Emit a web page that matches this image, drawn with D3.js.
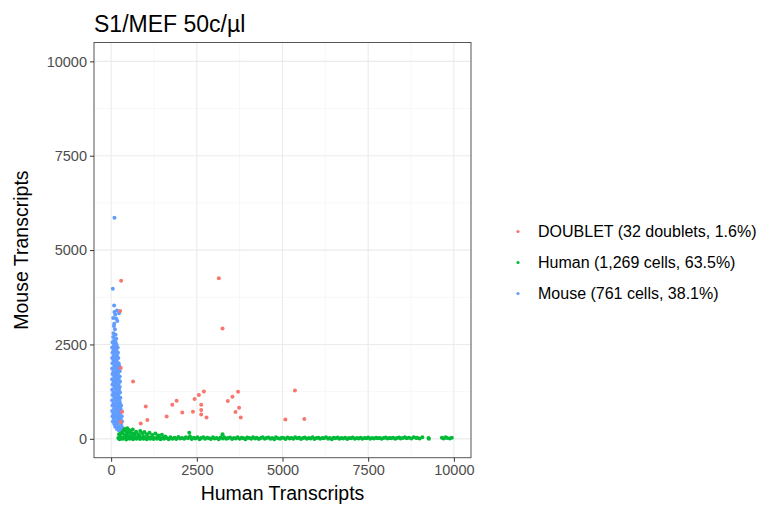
<!DOCTYPE html>
<html>
<head>
<meta charset="utf-8">
<script src="https://cdnjs.cloudflare.com/ajax/libs/d3/7.8.5/d3.min.js"></script>
<style>
	body { margin: 0; background: #fff; }
	svg { display: block; font-family: "Liberation Sans", Arial, sans-serif; }
</style>
</head>
<body>
<svg id="chart" width="760" height="511"></svg>
<script>
var TITLE = "S1/MEF 50c/\u00b5l";
var X_LABEL = "Human Transcripts";
var Y_LABEL = "Mouse Transcripts";
var TICKS = [0, 2500, 5000, 7500, 10000];
var MINOR_TICKS = [1250, 3750, 6250, 8750];

var categories = ["DOUBLET", "Human", "Mouse"];
var legendLabels = [
	"DOUBLET (32 doublets, 1.6%)",
	"Human (1,269 cells, 63.5%)",
	"Mouse (761 cells, 38.1%)"
];

// [human transcripts, mouse transcripts]
var doubletPts = [
	[291, 4188], [3142, 4251], [262, 3385], [3250, 2926], [282, 1874], [640, 1521],
	[320, 716], [282, 443], [864, 408], [1010, 859], [1057, 496], [1620, 594],
	[1784, 901], [1911, 1007], [2075, 700], [2386, 716], [2435, 1052], [2560, 1158],
	[2706, 1256], [2628, 901], [2628, 761], [2628, 647], [2783, 567], [3404, 999],
	[3540, 1113], [3704, 1246], [3733, 822], [3628, 708], [3782, 567], [5083, 514],
	[5362, 1283], [5636, 522]
];

var humanPts = [
	[210, 20], [230, 120], [250, 250], [260, 60], [280, 180], [300, 10], [310, 290], [330, 140],
	[350, 220], [370, 40], [390, 260], [410, 100], [430, 200], [450, 30], [470, 280], [490, 150],
	[510, 70], [530, 230], [560, 20], [580, 170], [600, 110], [630, 250], [650, 40], [680, 140],
	[700, 60], [730, 190], [760, 20], [790, 120], [820, 80], [850, 210], [880, 30], [910, 150],
	[940, 60], [970, 180], [1000, 20], [1040, 120], [1080, 50], [1120, 160], [1160, 30], [1200, 100],
	[1250, 20], [1290, 140], [1340, 40], [1380, 90], [1430, 20], [1480, 110], [1530, 30], [1580, 60],
	[240, -10], [340, 0], [440, -15], [540, 5], [640, -10], [740, 0], [840, -5], [940, 5],
	[1040, -10], [1140, 0], [1240, -5], [1340, 5], [1440, -10], [1540, 0],
	[1620, 20], [1680, -10], [1730, 40], [1790, 5], [1850, 30], [1900, -5], [1960, 50], [2010, 10],
	[2070, 25], [2130, 0], [2180, 45], [2240, 15], [2280, 160], [2300, 60], [2350, -5], [2410, 30],
	[2460, 10], [2520, 40], [2580, -10], [2630, 20], [2690, 45], [2740, 0], [2800, 30], [2860, 15],
	[2910, -5], [2970, 40], [3020, 10], [3080, 25], [3140, -10], [3190, 35], [3250, 120], [3260, 10],
	[3300, 45], [3360, 0], [3410, 20], [3470, 35], [3530, -5], [3580, 25], [3640, 10], [3690, 40],
	[3750, 0], [3810, 30], [3860, 15], [3920, -10], [3970, 35], [4030, 20], [4090, 5], [4140, 45],
	[4200, 10], [4250, 30], [4310, -5], [4370, 25], [4420, 40], [4480, 0], [4530, 20], [4590, 35],
	[4650, 5], [4700, 25], [4760, -10], [4810, 40], [4870, 15], [4930, 0], [4980, 30], [5040, 20],
	[5090, -5], [5150, 35], [5210, 10], [5260, 25], [5320, 0], [5370, 40], [5430, 15], [5490, 30],
	[5540, -5], [5600, 20], [5650, 35], [5710, 5], [5770, 25], [5820, 10], [5880, 40], [5930, -5],
	[5990, 20], [6050, 30], [6100, 0], [6160, 25], [6210, 15], [6270, 40], [6330, 5], [6380, 20],
	[6440, -10], [6490, 30], [6550, 15], [6610, 35], [6660, 0], [6720, 20], [6770, 10], [6830, 30],
	[6890, -5], [6940, 25], [7000, 15], [7050, 35], [7110, 0], [7170, 20], [7220, 10], [7280, 30],
	[7330, 5], [7390, 25], [7450, 15], [7500, 35], [7560, 0], [7610, 20], [7670, 10], [7730, 30],
	[7780, 15], [7840, 25], [7890, 5], [7950, 20], [8010, 35], [8060, 10], [8120, 25], [8170, 15],
	[8230, 30], [8290, 5], [8340, 20], [8400, 35], [8450, 10], [8510, 25], [8570, 40], [8620, 15],
	[8690, 30], [8760, 10], [8830, 45], [8900, 20],
	[8930, 30], [9000, 10], [9080, 40], [9260, 20], [9270, 0], [9650, 30], [9700, 10], [9760, 40],
	[9800, 20], [9880, 10], [9940, 30]
];

var mousePts = [
	[97, 5857], [49, 3976], [87, 3535], [170, 3400], [95, 3360], [230, 3330], [120, 3290], [60, 3200],
	[150, 3180], [180, 3120], [90, 3050], [80, 2990], [110, 2900], [70, 2800], [130, 2760], [60, 2700],
	[150, 2650], [90, 2610],
	[40, 2560], [130, 2560], [80, 2490], [160, 2490], [30, 2420], [120, 2420], [190, 2420],
	[70, 2350], [150, 2350], [40, 2280], [110, 2280], [200, 2280], [80, 2210], [170, 2210],
	[30, 2140], [130, 2140], [210, 2140], [70, 2070], [160, 2070], [40, 2000], [120, 2000], [220, 2000],
	[90, 1930], [180, 1930], [240, 1930], [30, 1860], [140, 1860], [210, 1860],
	[70, 1790], [160, 1790], [250, 1790], [40, 1720], [120, 1720], [200, 1720],
	[90, 1650], [180, 1650], [250, 1650], [30, 1580], [140, 1580], [220, 1580],
	[70, 1510], [160, 1510], [260, 1510], [40, 1440], [120, 1440], [210, 1440],
	[90, 1370], [180, 1370], [250, 1370], [30, 1300], [140, 1300], [230, 1300],
	[70, 1230], [170, 1230], [260, 1230], [40, 1160], [120, 1160], [210, 1160],
	[90, 1090], [190, 1090], [270, 1090], [30, 1020], [140, 1020], [240, 1020],
	[70, 950], [170, 950], [260, 950], [40, 880], [130, 880], [220, 880], [290, 880],
	[90, 810], [180, 810], [270, 810], [30, 740], [140, 740], [230, 740], [300, 740],
	[70, 670], [170, 670], [260, 670], [40, 600], [130, 600], [220, 600], [310, 600],
	[80, 530], [180, 530], [280, 530], [50, 460], [140, 460], [230, 460], [320, 460],
	[90, 390], [190, 390], [290, 390], [120, 320], [220, 320], [310, 320],
	[170, 260], [260, 260], [220, 230]
];

var colors = ["#F8766D", "#00BA38", "#619CFF"];
var series = [doubletPts, humanPts, mousePts];
var RADIUS = 2;

var svg = d3.select("#chart");
var panel = { left: 94, right: 471, top: 42.5, bottom: 457.7 };

var x = d3.scaleLinear().domain([-500, 10500]).range([panel.left, panel.right]);
var y = d3.scaleLinear().domain([-500, 10500]).range([panel.bottom, panel.top]);
var color = d3.scaleOrdinal().domain(categories).range(colors);

// minor grid first, then major grid
var grid = svg.append("g");
MINOR_TICKS.forEach(function(t) {
	grid.append("line").attr("x1", x(t)).attr("x2", x(t)).attr("y1", panel.top).attr("y2", panel.bottom)
		.attr("stroke", "#f2f2f2").attr("stroke-width", 0.6);
	grid.append("line").attr("y1", y(t)).attr("y2", y(t)).attr("x1", panel.left).attr("x2", panel.right)
		.attr("stroke", "#f2f2f2").attr("stroke-width", 0.6);
});
TICKS.forEach(function(t) {
	grid.append("line").attr("x1", x(t)).attr("x2", x(t)).attr("y1", panel.top).attr("y2", panel.bottom)
		.attr("stroke", "#ebebeb").attr("stroke-width", 1.1);
	grid.append("line").attr("y1", y(t)).attr("y2", y(t)).attr("x1", panel.left).attr("x2", panel.right)
		.attr("stroke", "#ebebeb").attr("stroke-width", 1.1);
});

// points: human, mouse, then doublets on top
var order = [1, 2, 0];
order.forEach(function(i) {
	svg.append("g").selectAll("circle")
		.data(series[i])
		.join("circle")
		.attr("cx", function(d) { return x(d[0]); })
		.attr("cy", function(d) { return y(d[1]); })
		.attr("r", RADIUS)
		.attr("fill", color(categories[i]));
});

svg.append("rect")
	.attr("x", panel.left).attr("y", panel.top)
	.attr("width", panel.right - panel.left).attr("height", panel.bottom - panel.top)
	.attr("fill", "none").attr("stroke", "#555").attr("stroke-width", 1);

// axes
var xAxis = d3.axisBottom(x).tickValues(TICKS).tickSize(4).tickPadding(3).tickFormat(d3.format("d"));
var yAxis = d3.axisLeft(y).tickValues(TICKS).tickSize(4).tickPadding(3).tickFormat(d3.format("d"));

var gx = svg.append("g").attr("transform", "translate(0," + panel.bottom + ")").call(xAxis);
var gy = svg.append("g").attr("transform", "translate(" + panel.left + ",0)").call(yAxis);
[gx, gy].forEach(function(g) {
	g.select(".domain").remove();
	g.selectAll(".tick line").attr("stroke", "#333");
	g.selectAll(".tick text").attr("fill", "#4d4d4d").style("font-size", "14.5px")
		.style("font-family", "'Liberation Sans', Arial, sans-serif");
});

svg.append("text")
	.attr("x", (panel.left + panel.right) / 2).attr("y", 500)
	.attr("text-anchor", "middle").style("font-size", "19.5px").attr("fill", "#000")
	.text(X_LABEL);

svg.append("text")
	.attr("transform", "translate(28," + (panel.top + panel.bottom) / 2 + ") rotate(-90)")
	.attr("text-anchor", "middle").style("font-size", "19.5px").attr("fill", "#000")
	.text(Y_LABEL);

svg.append("text")
	.attr("x", panel.left).attr("y", 32)
	.style("font-size", "23px").attr("fill", "#000")
	.text(TITLE);

// legend
var legend = svg.append("g").attr("transform", "translate(518,231.5)");
legendLabels.forEach(function(label, i) {
	var row = legend.append("g").attr("transform", "translate(0," + (i * 31) + ")");
	row.append("circle").attr("r", 1.6).attr("fill", colors[i]);
	row.append("text").attr("x", 20).attr("y", 5.6)
		.style("font-size", "16px").attr("fill", "#000")
		.text(label);
});
</script>
</body>
</html>
